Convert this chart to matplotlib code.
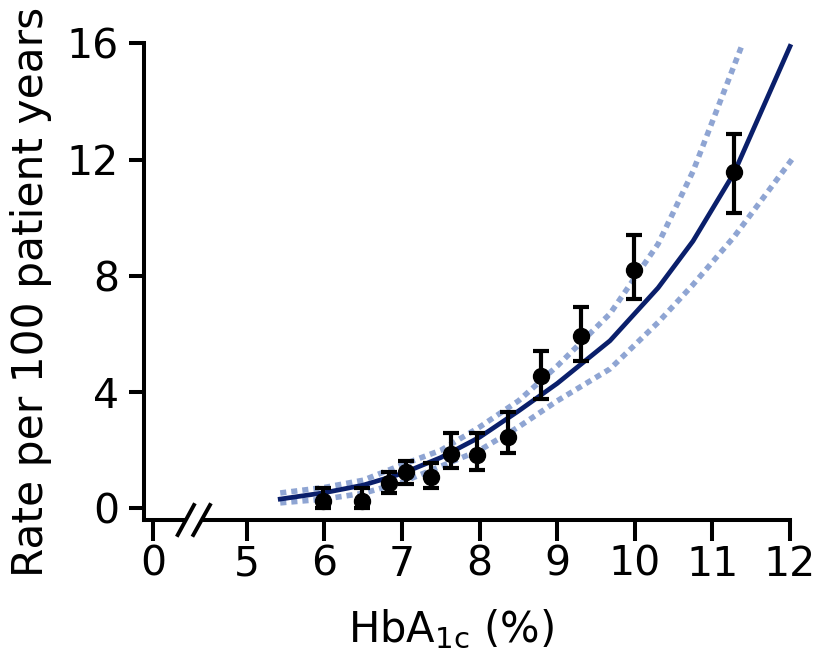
import numpy as np
import matplotlib
matplotlib.use("Agg")
import matplotlib.pyplot as plt
from matplotlib.lines import Line2D

# ---- data ----
hba1c = [5.98, 6.48, 6.83, 7.05, 7.37, 7.63, 7.97, 8.36, 8.79, 9.31, 9.99, 11.28]
rate = [0.25, 0.24, 0.88, 1.24, 1.08, 1.87, 1.85, 2.46, 4.56, 5.95, 8.20, 11.57]
rate_lo = [0.0, 0.0, 0.53, 0.84, 0.71, 1.39, 1.32, 1.91, 3.77, 5.06, 7.20, 10.16]
rate_hi = [0.71, 0.71, 1.25, 1.63, 1.56, 2.59, 2.59, 3.31, 5.42, 6.92, 9.40, 12.90]

fit_x = [5.43, 6.0, 6.5, 7.0, 7.5, 8.0, 8.5, 9.0, 9.68, 10.3, 10.75, 11.28, 12.0]
fit_y = [0.32, 0.54, 0.80, 1.20, 1.75, 2.45, 3.35, 4.30, 5.77, 7.59, 9.20, 11.55, 15.9]

up_x = [5.43, 6.0, 6.5, 7.0, 7.5, 8.0, 8.5, 9.0, 9.68, 10.3, 10.75, 11.39]
up_y = [0.53, 0.72, 0.97, 1.50, 2.00, 2.80, 3.70, 4.90, 6.70, 9.10, 11.6, 16.0]

lo_x = [5.43, 6.0, 6.5, 7.0, 7.5, 8.0, 8.5, 9.0, 9.68, 10.3, 10.75, 11.28, 12.05]
lo_y = [0.19, 0.32, 0.52, 0.90, 1.45, 2.00, 2.80, 3.70, 4.80, 6.40, 7.70, 9.35, 12.1]

xticks = [0, 5, 6, 7, 8, 9, 10, 11, 12]
yticks = [0, 4, 8, 12, 16]

FONT = "DejaVu Sans"
plt.rcParams['font.family'] = [FONT]
plt.rcParams['mathtext.fontset'] = 'custom'
plt.rcParams['mathtext.rm'] = FONT
FS = 29.5

# broken x scale: 0..5 compressed
K = 0.2424
def fwd(x):
    x = np.asarray(x, dtype=float)
    return np.where(x < 5, 5 - (5 - x) * K, x)
def inv(u):
    u = np.asarray(u, dtype=float)
    return np.where(u < 5, 5 - (5 - u) / K, u)

fig = plt.figure(figsize=(8.15, 6.54), dpi=100)
W, H = 815, 654
L, R, T, B = 144, 790, 43.5, 520
ax = fig.add_axes([L / W, 1 - B / H, (R - L) / W, (B - T) / H])
ax.set_xscale('function', functions=(fwd, inv))

navy = '#0a1f6b'
light = '#8fa5d3'

ax.plot(up_x, up_y, color=light, lw=4.0, linestyle=(0, (1.1, 0.9)), clip_on=False, zorder=2)
ax.plot(lo_x, lo_y, color=light, lw=4.0, linestyle=(0, (1.1, 0.9)), clip_on=False, zorder=2)
ax.plot(fit_x, fit_y, color=navy, lw=3.4, clip_on=False, zorder=3)

r = np.array(rate)
yerr = [r - np.array(rate_lo), np.array(rate_hi) - r]
ax.errorbar(hba1c, rate, yerr=yerr, fmt='o', color='black', ms=11.5, elinewidth=3.0,
            capsize=6.0, capthick=3.0, zorder=4, clip_on=False)

ax.set_xlim(-0.47, 12.0)
ax.set_ylim(-0.4, 16)
ax.set_xticks(xticks)
ax.set_xticklabels([str(t) for t in xticks])
ax.set_yticks(yticks)
ax.set_yticklabels([str(t) for t in yticks])
ax.minorticks_off()

for s in ['top', 'right']:
    ax.spines[s].set_visible(False)
for s in ['left', 'bottom']:
    ax.spines[s].set_linewidth(2.9)
ax.tick_params(axis='x', length=15, width=2.9, labelsize=FS, pad=3)
ax.tick_params(axis='y', length=11, width=2.9, labelsize=FS, pad=7)

ax.set_xlabel(r"HbA$_{\mathregular{1c}}$ (%)", fontsize=30)
ax.set_ylabel("Rate per 100 patient years", fontsize=30.5)
ax.xaxis.set_label_coords((451 - L) / (R - L), (B - 608) / (B - T))
ax.yaxis.set_label_coords((52 - L) / (R - L), (B - 292) / (B - T))

# axis break marks
def ax_pt(px, py):
    return (px - L) / (R - L), (B - py) / (B - T)
g0 = ax_pt(186, 519)
g1 = ax_pt(202, 519)
ax.add_line(Line2D([g0[0], g1[0]], [0, 0], transform=ax.transAxes, color='white',
                   lw=5, clip_on=False, zorder=10, solid_capstyle='butt'))
for (x0, y0, x1, y1) in [(177.7, 535, 194, 505), (193.3, 535, 210, 505)]:
    a = ax_pt(x0, y0)
    b = ax_pt(x1, y1)
    ax.add_line(Line2D([a[0], b[0]], [a[1], b[1]], transform=ax.transAxes, color='black',
                       lw=2.8, clip_on=False, zorder=11))

fig.savefig("out.png", dpi=100)
